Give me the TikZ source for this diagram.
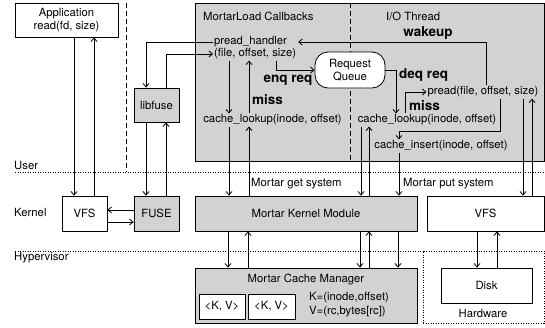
\documentclass[tikz,border=0pt]{standalone}
\usepackage{fontspec}
\setmainfont{TeX Gyre Heros}
\usetikzlibrary{positioning, calc, arrows.meta}

\begin{document}
\begin{tikzpicture}[x=1pt, y=-1pt,
                        >={Straight Barb[length=3.5pt,width=6pt]},
                        every node/.style={font=\fontsize{11.3}{13.5}\selectfont},
                        box/.style={rectangle, draw, line width=0.8pt, inner sep=0pt},
                        whitenode/.style={box, fill=white},
                        graynode/.style={box, fill=gray!35},
                        boldlbl/.style={font=\fontsize{13.5}{15}\selectfont\bfseries, inner sep=0pt},
                        txt/.style={inner sep=1pt},
                        link/.style={->, line width=0.8pt},
                        layer/.style={line width=0.8pt, dash pattern=on 1pt off 1.5pt},
                        split/.style={line width=0.8pt, dash pattern=on 5pt off 3pt},
                        ]
        \useasboundingbox (0,0) rectangle (545,327);

        %Layers
        \draw[layer] (15,172) -- (544,172);
        \draw[layer] (15,251) -- (423,251);
        \draw[split] (126,3) -- (126,172);
        \node[txt, anchor=west] (user)  at (13,165) {User};
        \node[txt, anchor=west] (kern)  at (13,212) {Kernel};
        \node[txt, anchor=west] (hyper) at (13,258) {Hypervisor};

        %Nodes
        \node[whitenode, minimum width=103pt, minimum height=34pt, align=center] (app) at (66.5,20) {Application\\read(fd, size)};
        \node[whitenode, minimum width=45pt, minimum height=35pt] (vfsk) at (84.5,213.5) {VFS};
        \node[graynode,  minimum width=45pt, minimum height=35pt] (fuse) at (156.5,213.5) {FUSE};
        \node[graynode,  minimum width=45pt, minimum height=34pt] (libfuse) at (156.5,105) {libfuse};

        \node[graynode, minimum width=349pt, minimum height=158pt] (panel) at (369.5,82) {};
        \draw[split] (panel.north -| 350,0) -- (panel.south -| 350,0);
        \node[txt, anchor=west] (cbtitle) at (202,16) {MortarLoad Callbacks};
        \node[txt, anchor=west] (iotitle) at (385,16) {I/O Thread};

        \node[txt, anchor=west] (phname) at (213,42) {pread\_handler};
        \node[txt, anchor=west] (phargs) at (213,54) {(file, offset, size)};
        \node[whitenode, rounded corners=13pt, minimum width=70pt, minimum height=36pt, align=center] (queue) at (350,70) {Request\\Queue};
        \node[boldlbl] (enq) at (288,80) {enq req};
        \node[boldlbl, anchor=west] (missL) at (252,100) {miss};
        \node[txt] (lookupL) at (272.5,120) {cache\_lookup(inode, offset)};

        \node[boldlbl] (wake) at (428,33) {wakeup};
        \node[boldlbl, anchor=west] (deq) at (399,75) {deq req};
        \node[txt] (pread) at (483,92) {pread(file, offset, size)};
        \node[boldlbl, anchor=west] (missR) at (409,106) {miss};
        \node[txt] (lookupR) at (427,120) {cache\_lookup(inode, offset)};
        \node[txt] (insert) at (441,146) {cache\_insert(inode, offset)};

        \node[graynode,  minimum width=222pt, minimum height=35pt] (mkm) at (306,213.5) {Mortar Kernel Module};
        \node[whitenode, minimum width=117pt, minimum height=35pt] (vfsh) at (485.5,213.5) {VFS};
        \node[txt, anchor=west] (getlbl) at (250,184) {Mortar get system};
        \node[txt, anchor=west] (putlbl) at (402,184) {Mortar put system};

        \node[graynode, minimum width=222pt, minimum height=55pt] (mcm) at (306,295.5) {};
        \node[txt] (mcmtitle) at (306,280) {Mortar Cache Manager};
        \node[whitenode, minimum width=46pt, minimum height=25pt] (kvA) at (222,306.5) {<K, V>};
        \node[whitenode, minimum width=47pt, minimum height=25pt] (kvB) at (271.5,306.5) {<K, V>};
        \node[txt, anchor=west, align=left] (kvdef) at (308,304.5) {K=(inode,offset)\\V=(rc,bytes[rc])};

        \node[box, layer, minimum width=121pt, minimum height=72pt] (hw) at (483.5,287) {};
        \node[whitenode, minimum width=91pt, minimum height=35pt] (disk) at (486.5,285.5) {Disk};
        \node[txt] (hwlbl) at (483,313) {Hardware};

        %Lines
        \draw[link] (app.south -| 74,0) -- (vfsk.north -| 74,0);
        \draw[link] (vfsk.north -| 94,0) -- (app.south -| 94,0);
        \draw[link] (fuse.west |- 0,210) -- (vfsk.east |- 0,210);
        \draw[link] (vfsk.east |- 0,222) -- (fuse.west |- 0,222);
        \draw[link] (libfuse.south -| 146,0) -- (fuse.north -| 146,0);
        \draw[link] (fuse.north -| 166,0) -- (libfuse.south -| 166,0);
        \draw[link] (phname.west) -| (libfuse.north -| 146,0);
        \draw[link] (libfuse.north -| 166,0) |- (phargs.west);

        \draw[link] (phargs.south -| 276,0) |- (queue.west);
        \draw[link] (phargs.south -| 229,0) -- (lookupL.north -| 229,0);
        \draw[link] (lookupL.north -| 249,0) -- (phargs.south -| 249,0);
        \draw[link] (lookupL.south -| 229,0) -- (mkm.north -| 229,0);
        \draw[link] (mkm.north -| 249,0) -- (lookupL.south -| 249,0);

        \draw[link] (pread.north -| 486,0) |- ([xshift=10pt]phname.east);
        \draw[link] (queue.east) -| (lookupR.north -| 396,0);
        \draw[link] (lookupR.north -| 405,0) |- (pread.west);
        \draw[link] (pread.south -| 500,0) -- (500,131) -| (insert.north -| 399,0);
        \draw[link] (lookupR.south -| 361,0) -- (mkm.north -| 361,0);
        \draw[link] (mkm.north -| 369,0) -- (lookupR.south -| 369,0);
        \draw[link] (insert.south -| 399,0) -- (mkm.north -| 399,0);
        \draw[link] (pread.south -| 523,0) -- (vfsh.north -| 523,0);
        \draw[link] (vfsh.north -| 532,0) -- (pread.south -| 532,0);

        \draw[link] (mkm.south -| 228,0) -- (mcm.north -| 228,0);
        \draw[link] (mcm.north -| 248,0) -- (mkm.south -| 248,0);
        \draw[link] (mkm.south -| 360,0) -- (mcm.north -| 360,0);
        \draw[link] (mcm.north -| 369,0) -- (mkm.south -| 369,0);
        \draw[link] (mkm.south -| 398,0) -- (mcm.north -| 398,0);
        \draw[link] (vfsh.south -| 477,0) -- (disk.north -| 477,0);
        \draw[link] (disk.north -| 497,0) -- (vfsh.south -| 497,0);
    \end{tikzpicture}
\end{document}
